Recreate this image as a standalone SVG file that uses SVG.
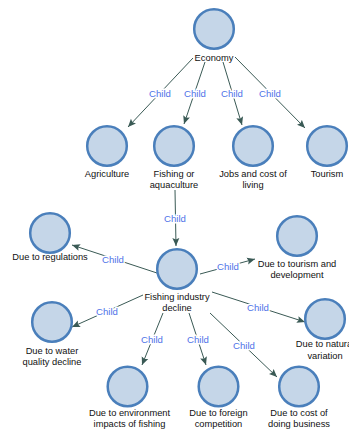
<svg xmlns="http://www.w3.org/2000/svg" width="349" height="430" viewBox="0 0 349 430">
<style>
.n{fill:#c5d6e8;stroke:#4a7fbb;stroke-width:2.5}
.t{font-family:"Liberation Sans",Arial,sans-serif;font-size:9.3px;fill:#111;text-anchor:middle}
.e{stroke:#3a5a55;stroke-width:1;fill:none;marker-end:url(#a)}
.c{font-family:"Liberation Sans",Arial,sans-serif;font-size:9.6px;fill:#4f72e8;text-anchor:middle;stroke:#fff;stroke-width:3;paint-order:stroke;stroke-linejoin:round}
</style>
<defs>
<marker id="a" markerUnits="userSpaceOnUse" markerWidth="9" markerHeight="8" refX="8" refY="4" orient="auto">
<path d="M0,0.5 L8,4 L0,7.5 L1.5,4 z" fill="#3a5a55"/>
</marker>
</defs>
<rect width="349" height="430" fill="#fff"/>
<g id="connectors">
<line class="e" x1="193" y1="58" x2="128" y2="127"/>
<line class="e" x1="205" y1="62" x2="184" y2="124"/>
<line class="e" x1="223" y1="62" x2="242" y2="125"/>
<line class="e" x1="235" y1="57" x2="305" y2="128"/>
<line class="e" x1="175" y1="190" x2="176" y2="246"/>
<line class="e" x1="157" y1="273" x2="72" y2="245"/>
<line class="e" x1="200" y1="274" x2="255" y2="259"/>
<line class="e" x1="143" y1="295" x2="72" y2="327"/>
<line class="e" x1="212" y1="292" x2="305" y2="322"/>
<line class="e" x1="163" y1="313" x2="142" y2="365"/>
<line class="e" x1="189" y1="313" x2="206" y2="365"/>
<line class="e" x1="210" y1="313" x2="277" y2="377"/>
<text class="c" x="160" y="96.5">Child</text>
<text class="c" x="195" y="96.5">Child</text>
<text class="c" x="232" y="96.5">Child</text>
<text class="c" x="270" y="96.5">Child</text>
<text class="c" x="175" y="221.5">Child</text>
<text class="c" x="113" y="262.5">Child</text>
<text class="c" x="228" y="269.5">Child</text>
<text class="c" x="107" y="314.5">Child</text>
<text class="c" x="258" y="310.5">Child</text>
<text class="c" x="152" y="342.5">Child</text>
<text class="c" x="198" y="342.5">Child</text>
<text class="c" x="244" y="348.5">Child</text>
</g>
<g id="economy"><circle class="n" cx="214" cy="29" r="19.8"/><text class="t" x="214" y="60.5">Economy</text></g>
<g id="agriculture"><circle class="n" cx="107" cy="146" r="19.8"/><text class="t" x="107" y="176.5">Agriculture</text></g>
<g id="fishing-aquaculture"><circle class="n" cx="174" cy="146" r="19.8"/><text class="t" x="174" y="176.5">Fishing or</text><text class="t" x="174" y="187.5">aquaculture</text></g>
<g id="jobs"><circle class="n" cx="253" cy="146" r="19.8"/><text class="t" x="253" y="176.5">Jobs and cost of</text><text class="t" x="253" y="187.5">living</text></g>
<g id="tourism"><circle class="n" cx="327" cy="146" r="19.8"/><text class="t" x="327" y="176.5">Tourism</text></g>
<g id="fishing-decline"><circle class="n" cx="177" cy="269" r="19.8"/><text class="t" x="177" y="300">Fishing industry</text><text class="t" x="177" y="311">decline</text></g>
<g id="regulations"><circle class="n" cx="50" cy="233" r="19.8"/><text class="t" x="50" y="260">Due to regulations</text></g>
<g id="tourism-development"><circle class="n" cx="297" cy="236" r="19.8"/><text class="t" x="297" y="266.5">Due to tourism and</text><text class="t" x="297" y="277.5">development</text></g>
<g id="water-quality"><circle class="n" cx="52" cy="322" r="19.8"/><text class="t" x="52" y="354">Due to water</text><text class="t" x="52" y="365">quality decline</text></g>
<g id="natural-variation"><circle class="n" cx="325" cy="319" r="19.8"/><text class="t" x="325" y="346.5">Due to natural</text><text class="t" x="325" y="358.5">variation</text></g>
<g id="environment"><circle class="n" cx="127.5" cy="386.5" r="19.8"/><text class="t" x="129.5" y="416">Due to environment</text><text class="t" x="129.5" y="427">impacts of fishing</text></g>
<g id="foreign"><circle class="n" cx="218.5" cy="386.5" r="19.8"/><text class="t" x="218.5" y="416">Due to foreign</text><text class="t" x="218.5" y="427">competition</text></g>
<g id="cost"><circle class="n" cx="299" cy="386.5" r="19.8"/><text class="t" x="299" y="416">Due to cost of</text><text class="t" x="299" y="427">doing business</text></g>
</svg>
